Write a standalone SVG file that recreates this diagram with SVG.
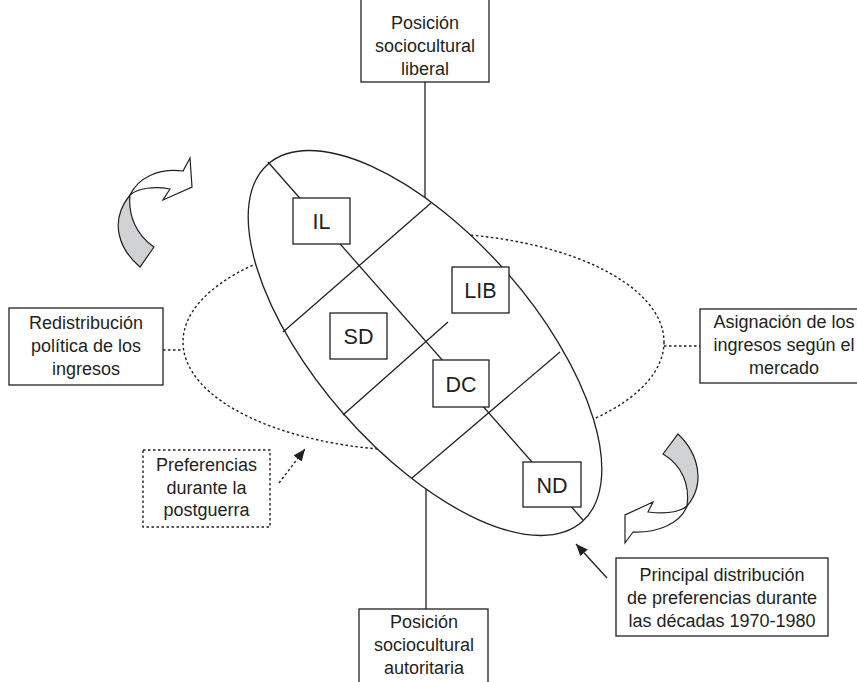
<svg xmlns="http://www.w3.org/2000/svg" width="857" height="682" viewBox="0 0 857 682">
<style>
.ln{stroke:#231f20;stroke-width:1.3;fill:none}
.dot{stroke:#231f20;stroke-width:1.4;fill:none;stroke-dasharray:2.5 2.5}
.box{stroke:#231f20;stroke-width:1.3;fill:#fff}
.dbox{stroke:#231f20;stroke-width:1.4;fill:#fff;stroke-dasharray:2.5 2.5}
.t{font-family:"Liberation Sans",Arial,sans-serif;font-size:18px;fill:#231f20;text-anchor:middle}
.l{font-family:"Liberation Sans",Arial,sans-serif;font-size:21.5px;fill:#231f20;text-anchor:middle}
.gray{fill:#d1d2d4;stroke:#231f20;stroke-width:1.2}
.wh{fill:#fff;stroke:#231f20;stroke-width:1.2}
</style>
<defs>
<marker id="ah" markerUnits="userSpaceOnUse" markerWidth="14" markerHeight="12" refX="12" refY="5" orient="auto">
<path d="M0,0 L12,5 L0,10 Z" fill="#231f20"/>
</marker>
</defs>
<g id="dotted-ellipse">
<ellipse class="dot" cx="423.5" cy="342" rx="240.5" ry="109"/>
</g>
<g id="connectors">
<line class="ln" x1="425" y1="82" x2="425" y2="200"/>
<line class="ln" x1="426" y1="486" x2="426" y2="609"/>
<line class="dot" x1="163" y1="350" x2="183" y2="350"/>
<line class="dot" x1="664" y1="346" x2="700" y2="346"/>
<line class="dot" x1="279" y1="483" x2="305" y2="449" marker-end="url(#ah)"/>
<line class="ln" x1="607" y1="578" x2="576" y2="544" marker-end="url(#ah)"/>
</g>
<g id="main-ellipse">
<ellipse class="ln" style="fill:#fff" cx="425" cy="343" rx="238" ry="108" transform="rotate(48.7 425 343)"/>
<line class="ln" x1="268" y1="162" x2="583" y2="520"/>
<line class="ln" x1="283" y1="332" x2="431" y2="203"/>
<line class="ln" x1="343" y1="415" x2="448" y2="322"/>
<line class="ln" x1="412" y1="478" x2="560" y2="352"/>
</g>
<g id="IL"><rect class="box" x="293" y="198" width="57" height="46"/><text class="l" x="321.5" y="229">IL</text></g>
<g id="SD"><rect class="box" x="330" y="313" width="57" height="46"/><text class="l" x="358.5" y="344">SD</text></g>
<g id="LIB"><rect class="box" x="452" y="267" width="57" height="46"/><text class="l" x="480.5" y="298">LIB</text></g>
<g id="DC"><rect class="box" x="433" y="360" width="56" height="47"/><text class="l" x="461" y="391.5">DC</text></g>
<g id="ND"><rect class="box" x="523" y="462" width="58" height="45"/><text class="l" x="552" y="492.5">ND</text></g>
<g id="top"><rect class="box" x="361" y="-2" width="128" height="84"/>
<text class="t" x="425" y="29">Posición</text><text class="t" x="425" y="52">sociocultural</text><text class="t" x="425" y="75">liberal</text></g>
<g id="bottom"><rect class="box" x="359" y="609" width="129" height="80"/>
<text class="t" x="424" y="628">Posición</text><text class="t" x="424" y="651">sociocultural</text><text class="t" x="424" y="674">autoritaria</text></g>
<g id="left"><rect class="box" x="9" y="308" width="154" height="77"/>
<text class="t" x="86" y="329">Redistribución</text><text class="t" x="86" y="352">política de los</text><text class="t" x="86" y="375">ingresos</text></g>
<g id="right"><rect class="box" x="700" y="309" width="170" height="74"/>
<text class="t" x="784" y="328">Asignación de los</text><text class="t" x="784" y="351">ingresos según el</text><text class="t" x="784" y="374">mercado</text></g>
<g id="postwar"><rect class="dbox" x="143" y="450" width="127" height="77"/>
<text class="t" x="206.5" y="471">Preferencias</text><text class="t" x="206.5" y="493.5">durante la</text><text class="t" x="206.5" y="516">postguerra</text></g>
<g id="principal"><rect class="box" x="616" y="558" width="212" height="78"/>
<text class="t" x="722" y="581">Principal distribución</text><text class="t" x="722" y="604">de preferencias durante</text><text class="t" x="722" y="627">las décadas 1970-1980</text></g>
<g id="arrow-left">
<path class="gray" d="M140,267 C120,250 108,222 130,195 C128,215 136,235 154,247 Z"/>
<path class="wh" d="M130,195 C138,178 158,168 183,171 L190,158 L192,187 L163,200 L170,189 C155,186 138,188 130,195 Z"/>
</g>
<g id="arrow-right">
<path class="gray" d="M678,434 C700,455 705,485 687,506 C690,485 682,465 663,454 Z"/>
<path class="wh" d="M687,506 C680,525 655,533 633,532 L625,543 L625,515 L653,502 L648,512 C665,514 680,512 687,506 Z"/>
</g>
</svg>
